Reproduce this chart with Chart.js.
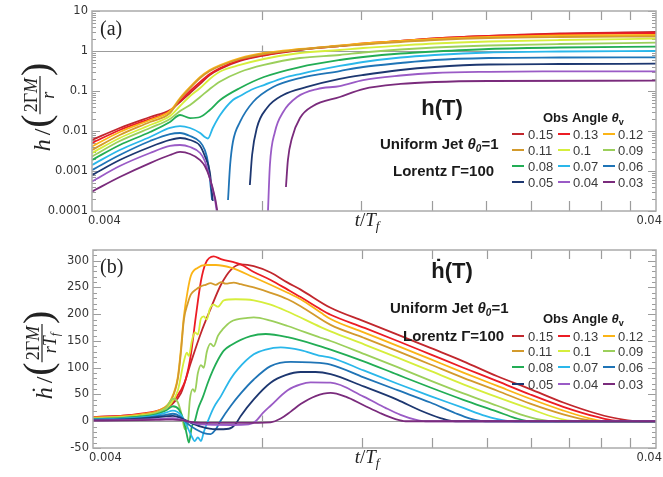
<!DOCTYPE html>
<html><head><meta charset="utf-8">
<script src="https://cdn.jsdelivr.net/npm/chart.js@4"></script>
<style>html,body{margin:0;padding:0;background:#fff}#wrap{position:relative;width:663px;height:477px;overflow:hidden}canvas{position:absolute;left:0}</style>
</head><body><div id="wrap"><canvas id="ca" width="663" height="240" style="top:0"></canvas><canvas id="cb" width="663" height="245" style="top:232px"></canvas></div>
<script>
// ---------- categories / labels ----------
const angles = ['0.15','0.13','0.12','0.11','0.1','0.09','0.08','0.07','0.06','0.05','0.04','0.03'];
const colors = ['#c1272d','#ec1c24','#fbb416','#d39a2c','#d6ee3c','#9bcf5b','#22ad55','#2ab7ea','#1f74b6','#1d3770','#9a5bc6','#7a2b7c'];
const yTicksA = [0.0001,0.001,0.01,0.1,1,10];
const yTickLabelsA = ['0.0001','0.001','0.01','0.1','1','10'];
const yTicksB = [-50,0,50,100,150,200,250,300];
const xMinorTicks = [0.008,0.012,0.016,0.02,0.024,0.028,0.032,0.036];
const xTickLabels = ['0.004','0.04'];

// ---------- panel (a): h(T), t/T_f vs h ----------
const tA = [0.004,0.00448,0.00507,0.0055,0.00573,0.00597,0.00622,0.00647,0.00675,0.00732,0.00807,0.00935,0.0110,0.0121,0.0141,0.0162,0.0202,0.0270,0.04];
const hA015 = [0.00596,0.0119,0.0224,0.0335,0.0531,0.0891,0.150,0.251,0.355,0.562,0.772,1.059,1.334,1.496,1.778,2.054,2.371,2.738,2.985];
const hA013 = [0.00501,0.0106,0.0200,0.0316,0.0562,0.100,0.168,0.266,0.376,0.596,0.794,1.09,1.334,1.54,1.778,2.054,2.371,2.661,2.818];
const hA012 = [0.0041,0.00944,0.0188,0.0316,0.0668,0.126,0.224,0.335,0.447,0.668,0.891,1.122,1.372,1.54,1.778,1.995,2.239,2.44,2.512];
const hA011 = [0.00335,0.00794,0.0168,0.0282,0.0631,0.119,0.211,0.316,0.422,0.631,0.841,1.09,1.334,1.454,1.679,1.884,2.113,2.239,2.304];
const hA010 = [0.00282,0.00668,0.0141,0.0237,0.0422,0.075,0.119,0.200,0.307,0.447,0.631,0.891,1.059,1.189,1.372,1.54,1.728,1.884,2.03];
const hA009 = [0.0023,0.00562,0.0119,0.0200,0.0316,0.0447,0.0708,0.112,0.173,0.299,0.447,0.668,0.794,0.917,1.09,1.223,1.372,1.496,1.613];
const hA008 = [0.00188,0.00447,0.00944,0.0168,0.0251,0.0211,0.0224,0.0335,0.0596,0.119,0.224,0.398,0.596,0.708,0.866,0.972,1.122,1.223,1.281];
const tA007 = [0.004,0.00448,0.00507,0.0055,0.00573,0.00597,0.00622,0.00634,0.00642,0.00655,0.00675,0.00711,0.00732,0.00772,0.00807,0.00873,0.00935,0.0110,0.0121,0.0141,0.0162,0.0202,0.0270,0.04];
const hA007 = [0.00141,0.00335,0.00708,0.0119,0.0133,0.0119,0.00891,0.00708,0.0065,0.0119,0.0251,0.0596,0.075,0.112,0.141,0.211,0.266,0.422,0.531,0.688,0.794,0.917,0.972,1.0];
const tA006 = [0.004,0.00448,0.00507,0.0055,0.00573,0.00597,0.00622,0.00634,0.00642,0.00647,0.00653,0.0068,0.00697,0.00703,0.00711,0.00732,0.00772,0.00838,0.00935,0.0110,0.0121,0.0141,0.0162,0.0202,0.0270,0.04];
const hA006 = [0.00106,0.00251,0.00562,0.00841,0.00891,0.0075,0.00531,0.00335,0.00168,0.000668,0.000188,null,0.000188,0.00141,0.00531,0.0168,0.0531,0.126,0.211,0.316,0.398,0.501,0.596,0.668,0.688,0.696];
const tA005 = [0.004,0.00448,0.00507,0.0055,0.00573,0.00597,0.00622,0.00634,0.00647,0.00655,0.0070,0.00762,0.00769,0.00784,0.00817,0.00873,0.00962,0.0110,0.0121,0.0141,0.0162,0.0202,0.0270,0.04];
const hA005 = [0.00079,0.00188,0.00398,0.00596,0.00668,0.00596,0.00422,0.00237,0.000944,0.000178,null,0.000447,0.00251,0.0119,0.0376,0.0794,0.126,0.200,0.251,0.335,0.398,0.46,0.473,0.481];
const tA004 = [0.004,0.00448,0.00507,0.0055,0.00573,0.00597,0.00622,0.00634,0.00647,0.00661,0.00667,0.0075,0.0082,0.00827,0.00844,0.00873,0.00924,0.01003,0.0110,0.0121,0.0141,0.0162,0.0202,0.0270,0.04];
const hA004 = [0.000546,0.00133,0.00282,0.00422,0.00447,0.00398,0.00282,0.00178,0.000668,0.000188,0.00008,null,0.00008,0.00141,0.00944,0.0299,0.0708,0.112,0.133,0.188,0.244,0.282,0.302,0.309,0.311];
const tA003 = [0.004,0.00448,0.00507,0.0055,0.00573,0.00597,0.00622,0.00634,0.00647,0.00661,0.00669,0.0078,0.00883,0.0089,0.00905,0.00935,0.00986,0.0110,0.0121,0.0141,0.0162,0.0202,0.04];
const hA003 = [0.000307,0.000708,0.00158,0.00251,0.00299,0.00266,0.00188,0.00133,0.000668,0.000211,0.00008,null,0.000398,0.00188,0.00668,0.0211,0.0422,0.0708,0.112,0.150,0.168,0.178,0.181];

// ---------- panel (b): hdot(T) ----------
const tB015 = [0.004,0.00448,0.004865,0.00528,0.0055,0.00573,0.00597,0.00622,0.00647,0.00675,0.00703,0.00732,0.00772,0.00827,0.008867,0.00935,0.01057,0.0121,0.0139,0.0159,0.01819,0.0209,0.02391,0.02737,0.03144,0.03496,0.03747,0.04];
const vB015 = [8,10,13,20,30,52,110,165,210,255,283,293,290,278,259,246,212,187,162,137,112,84,60,35,14,3,0,0];
const tB013 = [0.004,0.00448,0.004865,0.00528,0.0055,0.00573,0.00585,0.00597,0.00609,0.00622,0.00634,0.00655,0.00675,0.00732,0.00772,0.00827,0.008867,0.00935,0.01015,0.01057,0.0121,0.0139,0.0159,0.01819,0.0209,0.02391,0.02737,0.03144,0.03383,0.03672,0.04];
const vB013 = [8,10,14,22,33,58,80,125,195,262,295,308,303,293,279,264,246,232,209,199,175,150,125,100,75,50,27,8,1,0,0];
const tB012 = [0.004,0.00448,0.004865,0.00528,0.0055,0.005661,0.00573,0.005801,0.005896,0.00597,0.006142,0.00634,0.00661,0.00703,0.00772,0.008867,0.00935,0.01015,0.01057,0.0121,0.0139,0.0159,0.01819,0.0209,0.02391,0.02737,0.03055,0.03248,0.04];
const vB012 = [7,9,13,22,40,84,134,196,246,272,287,292,292,287,269,240,228,203,191,166,141,116,91,66,42,20,5,0,0];
const tB011 = [0.004,0.00448,0.004865,0.00528,0.0055,0.005661,0.00573,0.005801,0.005896,0.00597,0.00609,0.00622,0.00634,0.00647,0.00661,0.00675,0.00688,0.00711,0.00732,0.00772,0.00827,0.008867,0.00935,0.01057,0.0121,0.0139,0.0159,0.01819,0.0209,0.02391,0.02737,0.02994,0.03182,0.04];
const vB011 = [6,8,12,21,38,80,128,190,221,237,246,252,255,258,255,260,257,259,256,250,240,228,215,180,156,131,106,81,57,33,13,3,0,0];
const tB010 = [0.004,0.00448,0.004865,0.00528,0.0055,0.005661,0.005801,0.005871,0.00592,0.005993,0.006066,0.006142,0.00622,0.006293,0.006372,0.00645,0.00655,0.00667,0.006829,0.00717,0.00772,0.00827,0.008867,0.01015,0.01057,0.0121,0.0139,0.0159,0.01819,0.0209,0.02391,0.02649,0.02816,0.02994,0.04];
const vB010 = [5.5,8,11,19,33,58,112,128,122,150,166,162,192,196,190,210,218,214,226,228,226,218,205,176,168,144,119,94,69,45,23,7,1,0,0];
const tB009 = [0.004,0.00448,0.004865,0.005174,0.00539,0.005546,0.005661,0.005754,0.005825,0.005896,0.005944,0.006017,0.006066,0.006142,0.00622,0.006293,0.006372,0.00647,0.00655,0.00667,0.006801,0.00703,0.007531,0.00772,0.00827,0.008867,0.01015,0.01057,0.0121,0.0139,0.0159,0.01819,0.0209,0.02296,0.02491,0.02649,0.04];
const vB009 = [5,7,10,15,25,42,35,10,-15,-5,40,60,55,90,105,100,130,145,140,160,172,186,193,194,188,178,156,150,126,101,76,52,29,13,3,0,0];
const tB008 = [0.004,0.00448,0.004865,0.005174,0.00539,0.005546,0.005684,0.005801,0.005871,0.00592,0.005993,0.006066,0.006142,0.006268,0.006398,0.00653,0.00667,0.006829,0.00703,0.00762,0.008107,0.008867,0.01015,0.01057,0.0121,0.0139,0.0159,0.01819,0.0209,0.02249,0.02391,0.04];
const vB008 = [4,6,9,13,20,28,22,0,-25,-40,-10,0,22,45,72,95,115,132,142,159,163,157,140,134,112,87,63,40,18,6,0,0];
const tB007 = [0.004,0.00448,0.004865,0.005174,0.00539,0.005546,0.00573,0.00585,0.00597,0.006066,0.006142,0.00622,0.006293,0.006398,0.00655,0.00675,0.00703,0.007229,0.00772,0.008107,0.00862,0.00935,0.01015,0.01057,0.0121,0.0139,0.0159,0.01819,0.0199,0.0216,0.02249,0.04];
const vB007 = [3.5,5,7,11,16,20,12,-5,-25,-37,-30,-37,-20,0,25,47,80,97,125,134,138,133,122,119,95,70,47,25,10,1,0,0];
const tB006 = [0.004,0.00448,0.004865,0.005174,0.00539,0.005546,0.00573,0.005896,0.00609,0.006293,0.00647,0.00661,0.00675,0.00703,0.00732,0.00772,0.00827,0.00898,0.00974,0.01057,0.0121,0.0139,0.0159,0.01761,0.01872,0.0199,0.04];
const vB006 = [3,4,6,9,12,14,8,-5,-15,-22,-24,-15,2,29,52,78,103,111,110,106,82,58,35,15,5,0,0];
const tB005 = [0.004,0.00448,0.004865,0.005174,0.00539,0.005546,0.00573,0.00597,0.00622,0.00661,0.00697,0.00717,0.00732,0.00772,0.00827,0.008792,0.00935,0.00994,0.01057,0.0121,0.0139,0.01526,0.01656,0.01761,0.04];
const vB005 = [2,3,5,7,9,10,6,-3,-10,-15,-14,-5,10,41,72,86,92,92,88,65,40,20,6,0,0];
const tB004 = [0.004,0.00448,0.004865,0.005174,0.00539,0.005546,0.00573,0.00597,0.00622,0.00703,0.007563,0.00778,0.008008,0.00827,0.008867,0.00935,0.00974,0.01057,0.0121,0.01323,0.01407,0.01495,0.01558,0.04];
const vB004 = [1.5,2,3,4,5,6,3,-2,-6,-7,-6,0,15,29,58,69,72.5,72,46,25,12,3,0,0];
const tB003 = [0.004,0.00448,0.004865,0.005174,0.00539,0.005546,0.00573,0.00597,0.00622,0.00732,0.00827,0.00862,0.00898,0.00935,0.00994,0.01057,0.01124,0.0121,0.01296,0.01378,0.01436,0.04];
const vB003 = [1,1.5,2,2.5,3,3,2,-1,-3,-3,-2,5,18,32,47,53,46,30,15,4,0,0];

const seriesA = [[tA,hA015],[tA,hA013],[tA,hA012],[tA,hA011],[tA,hA010],[tA,hA009],[tA,hA008],[tA007,hA007],[tA006,hA006],[tA005,hA005],[tA004,hA004],[tA003,hA003]];
const seriesB = [[tB015,vB015],[tB013,vB013],[tB012,vB012],[tB011,vB011],[tB010,vB010],[tB009,vB009],[tB008,vB008],[tB007,vB007],[tB006,vB006],[tB005,vB005],[tB004,vB004],[tB003,vB003]];

const SANS = '"Liberation Sans", Arial, sans-serif';
const SERIF = '"Liberation Serif", "DejaVu Serif", serif';
const TICKFONT = '"DejaVu Sans", sans-serif';
const GRID = '#9c9c9c';

function makeDatasets(series) {
  return series.map((s, i) => ({
    label: angles[i],
    data: s[0].map((x, j) => ({x: x, y: s[1][j]})),
    borderColor: colors[i], backgroundColor: colors[i],
    borderWidth: 1.8, pointRadius: 0, fill: false,
    cubicInterpolationMode: 'monotone', spanGaps: false,
    order: angles.length - i
  }));
}

function rich(ctx, x, y, segs, align) {
  let w = 0;
  segs.forEach(s => { ctx.font = s.f; s.w = ctx.measureText(s.t).width; w += s.w; });
  let cx = align === 'center' ? x - w / 2 : (align === 'right' ? x - w : x);
  segs.forEach(s => { ctx.font = s.f; ctx.fillText(s.t, cx, y + (s.dy || 0)); cx += s.w; });
}

function yTitle(ctx, cx, cy, sym, denSegs) {
  ctx.save();
  ctx.translate(cx, cy); ctx.rotate(-Math.PI / 2);
  ctx.fillStyle = '#222'; ctx.strokeStyle = '#222'; ctx.textBaseline = 'alphabetic'; ctx.textAlign = 'left';
  const fSym = 'italic 24px ' + SERIF, fSl = '24px ' + SERIF, fPar = '40px ' + SERIF;
  const numSegs = [{t: '2Γ', f: '18px ' + SERIF}, {t: 'M', f: 'italic 18px ' + SERIF}];
  ctx.font = fSym; const wSym = ctx.measureText(sym).width;
  ctx.font = fSl; const wSl = ctx.measureText('/').width;
  ctx.font = fPar; const wPar = ctx.measureText('(').width;
  let wNum = 0; numSegs.forEach(s => { ctx.font = s.f; wNum += ctx.measureText(s.t).width; });
  let wDen = 0; denSegs.forEach(s => { ctx.font = s.f; wDen += ctx.measureText(s.t).width; });
  const wFrac = Math.max(wNum, wDen) + 4;
  const total = wSym + 4 + wSl + 1 + wPar + wFrac + wPar;
  let u = -total / 2;
  ctx.font = fSym; ctx.fillText(sym, u, 0); u += wSym + 4;
  ctx.font = fSl; ctx.fillText('/', u, 0); u += wSl + 1;
  ctx.font = fPar; ctx.fillText('(', u, -1); u += wPar;
  ctx.lineWidth = 1.2; ctx.beginPath(); ctx.moveTo(u, -10); ctx.lineTo(u + wFrac, -10); ctx.stroke();
  rich(ctx, u + wFrac / 2, -13.5, numSegs, 'center');
  rich(ctx, u + wFrac / 2, 4, denSegs, 'center');
  u += wFrac;
  ctx.font = fPar; ctx.fillText(')', u, -1);
  ctx.restore();
}

function drawLegend(ctx, rowsY) {
  const lineX = [512, 558, 603], textX = [528, 573, 618];
  ctx.textBaseline = 'alphabetic'; ctx.textAlign = 'left';
  angles.forEach((a, i) => {
    const r = Math.floor(i / 3), c = i % 3;
    const y = rowsY[r];
    ctx.strokeStyle = colors[i]; ctx.lineWidth = 2;
    ctx.beginPath(); ctx.moveTo(lineX[c], y); ctx.lineTo(lineX[c] + 12, y); ctx.stroke();
    ctx.fillStyle = '#3a3a3a'; ctx.font = '13px ' + SANS;
    ctx.fillText(a, textX[c], y + 4.5);
  });
}

function decorPlugin(cfg) {
  return {
    id: 'decor' + cfg.id,
    beforeDatasetsDraw(chart) {
      const ctx = chart.ctx, a = chart.chartArea, xs = chart.scales.x, ys = chart.scales.y;
      ctx.save();
      ctx.strokeStyle = GRID; ctx.lineWidth = 1.2;
      const yb = Math.round(ys.getPixelForValue(cfg.baseline)) + 0.5;
      ctx.beginPath(); ctx.moveTo(a.left, yb); ctx.lineTo(a.right, yb); ctx.stroke();
      const xc = Math.round(xs.getPixelForValue(xMinorTicks[0])) + 0.5;
      ctx.beginPath(); ctx.moveTo(xc, yb - 6); ctx.lineTo(xc, yb + 6); ctx.stroke();
      xMinorTicks.forEach(v => {
        const px = Math.round(xs.getPixelForValue(v)) + 0.5;
        ctx.beginPath(); ctx.moveTo(px, a.top); ctx.lineTo(px, a.top + 9);
        ctx.moveTo(px, a.bottom); ctx.lineTo(px, a.bottom - 10); ctx.stroke();
      });
      cfg.yMinor.forEach(m => {
        const py = Math.round(ys.getPixelForValue(m.v)) + 0.5;
        const L = m.major ? 8 : 4;
        ctx.beginPath(); ctx.moveTo(a.left, py); ctx.lineTo(a.left + L, py);
        ctx.moveTo(a.right, py); ctx.lineTo(a.right - L, py); ctx.stroke();
      });
      ctx.restore();
    },
    afterDatasetsDraw(chart) {
      const ctx = chart.ctx, a = chart.chartArea, xs = chart.scales.x;
      ctx.save();
      ctx.strokeStyle = '#ababab'; ctx.lineWidth = 1.5;
      ctx.strokeRect(a.left, a.top, a.right - a.left, a.bottom - a.top);
      ctx.fillStyle = '#333'; ctx.font = '11.5px ' + TICKFONT; ctx.textBaseline = 'alphabetic';
      ctx.textAlign = 'left'; ctx.fillText(xTickLabels[0], xs.getPixelForValue(0.004) - 4, cfg.xLabY);
      ctx.textAlign = 'right'; ctx.fillText(xTickLabels[1], 662, cfg.xLabY);
      ctx.textAlign = 'left';
      ctx.fillStyle = '#222';
      rich(ctx, 367, cfg.xTitleY, [
        {t: 't', f: 'italic 19px ' + SERIF}, {t: '/', f: '19px ' + SERIF},
        {t: 'T', f: 'italic 19px ' + SERIF}, {t: 'f', f: 'italic 13px ' + SERIF, dy: 4}], 'center');
      yTitle(ctx, cfg.yTitleX, cfg.yTitleY, cfg.sym, cfg.den);
      ctx.fillStyle = '#222'; ctx.font = '20px ' + SERIF; ctx.textAlign = 'left';
      ctx.fillText(cfg.letter, 100, cfg.letterY);
      ctx.fillStyle = '#1a1a1a';
      ctx.font = 'bold 22px ' + SANS; ctx.textAlign = 'center';
      ctx.fillText(cfg.title, cfg.titleX, cfg.titleY);
      ctx.textAlign = 'left';
      rich(ctx, cfg.jetX, cfg.jetY, [
        {t: 'Uniform Jet ', f: 'bold 15px ' + SANS}, {t: 'θ', f: 'italic bold 15px ' + SANS},
        {t: '0', f: 'italic bold 10px ' + SANS, dy: 3}, {t: '=1', f: 'bold 15px ' + SANS}], 'left');
      rich(ctx, cfg.lorX, cfg.lorY, [{t: 'Lorentz Γ=100', f: 'bold 15px ' + SANS}], 'left');
      rich(ctx, 543, cfg.obsY, [
        {t: 'Obs Angle ', f: 'bold 13px ' + SANS}, {t: 'θ', f: 'italic bold 13px ' + SANS},
        {t: 'v', f: 'bold 9px ' + SANS, dy: 3}], 'left');
      drawLegend(ctx, cfg.rows);
      ctx.restore();
    }
  };
}

const minorA = [];
[0.0001, 0.001, 0.01, 0.1, 1].forEach(d => { for (let k = 1; k <= 9; k++) minorA.push({v: k * d, major: k === 1}); });
minorA.push({v: 10, major: true});
const minorB = [];
for (let v = -50; v <= 320; v += 10) minorB.push({v: v, major: v % 50 === 0});

Chart.defaults.font.family = TICKFONT;

new Chart(document.getElementById('ca'), {
  type: 'line',
  data: {datasets: makeDatasets(seriesA)},
  options: {
    responsive: false, devicePixelRatio: 1, animation: false,
    layout: {padding: {top: 11, right: 7, left: 0, bottom: 0}},
    plugins: {legend: {display: false}, tooltip: {enabled: false}},
    scales: {
      x: {type: 'logarithmic', min: 0.004, max: 0.04, grid: {display: false}, border: {display: false},
          ticks: {display: false}, afterFit: s => { s.height = 29; }},
      y: {type: 'logarithmic', min: 0.0001, max: 10, grid: {display: false, drawTicks: false}, border: {display: false},
          afterBuildTicks: s => { s.ticks = yTicksA.map(v => ({value: v})); },
          ticks: {color: '#333', font: {size: 11.5, family: TICKFONT}, padding: 4, autoSkip: false,
                  callback: (v, i) => yTickLabelsA[yTicksA.indexOf(v)] ?? ''},
          afterFit: s => { s.width = 92; }}
    }
  },
  plugins: [decorPlugin({id: 'a', baseline: 1, yMinor: minorA, xLabY: 224, xTitleY: 226,
    yTitleX: 50, yTitleY: 107, sym: 'h', den: [{t: 'r', f: 'italic 18px ' + SERIF}],
    letter: '(a)', letterY: 35, title: 'h(T)', titleX: 442, titleY: 115,
    jetX: 380, jetY: 149, lorX: 393, lorY: 176, obsY: 122, rows: [134, 150, 166, 182]})]
});

new Chart(document.getElementById('cb'), {
  type: 'line',
  data: {datasets: makeDatasets(seriesB)},
  options: {
    responsive: false, devicePixelRatio: 1, animation: false,
    layout: {padding: {top: 18, right: 7, left: 0, bottom: 0}},
    plugins: {legend: {display: false}, tooltip: {enabled: false}},
    scales: {
      x: {type: 'logarithmic', min: 0.004, max: 0.04, grid: {display: false}, border: {display: false},
          ticks: {display: false}, afterFit: s => { s.height = 29; }},
      y: {type: 'linear', min: -50, max: 320, grid: {display: false, drawTicks: false}, border: {display: false},
          afterBuildTicks: s => { s.ticks = yTicksB.map(v => ({value: v})); },
          ticks: {color: '#333', font: {size: 11.5, family: TICKFONT}, padding: 4, autoSkip: false,
                  callback: v => String(v)},
          afterFit: s => { s.width = 93; }}
    }
  },
  plugins: [decorPlugin({id: 'b', baseline: 0, yMinor: minorB, xLabY: 229, xTitleY: 231,
    yTitleX: 52, yTitleY: 123, sym: 'ḣ', den: [{t: 'rT', f: 'italic 18px ' + SERIF}, {t: 'f', f: 'italic 12px ' + SERIF, dy: 3}],
    letter: '(b)', letterY: 41, title: 'ḣ(T)', titleX: 452, titleY: 46,
    jetX: 390, jetY: 81, lorX: 403, lorY: 109, obsY: 91, rows: [104, 119, 135, 152]})]
});
</script>
</body></html>
